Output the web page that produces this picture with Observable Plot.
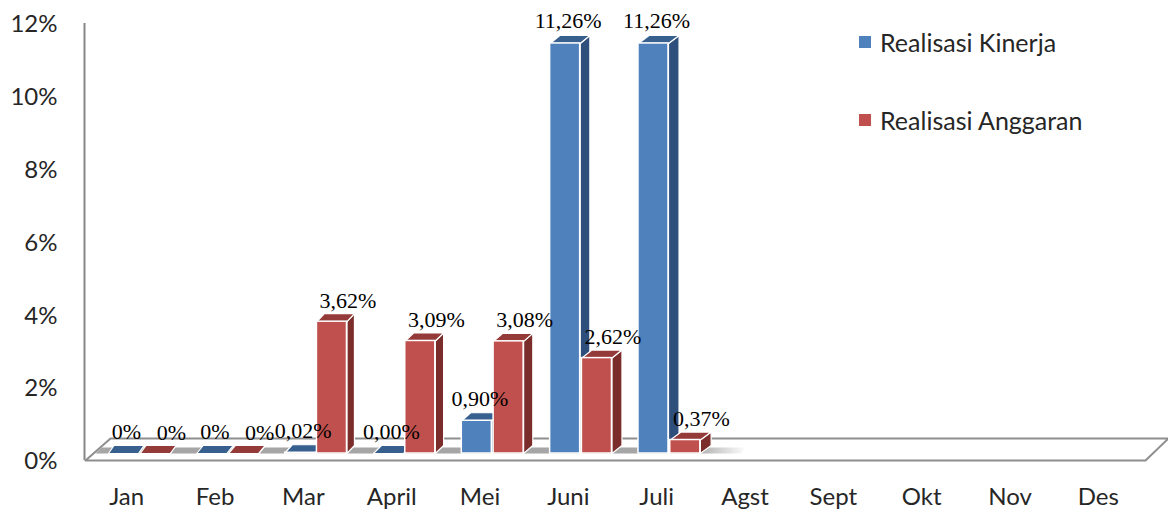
<!DOCTYPE html>
<html>
<head>
<meta charset="utf-8">
<script src="https://cdn.jsdelivr.net/npm/d3@7"></script>
<script src="https://cdn.jsdelivr.net/npm/@observablehq/plot@0.6"></script>
<style>
  html, body { margin: 0; padding: 0; background: #fff; }
  #wrap { position: relative; width: 1168px; height: 512px; }
  #legend { position: absolute; left: 859px; top: 27px; font-family: Lato, sans-serif; font-size: 25px; color: #262626; }
  .item { position: absolute; left: 0; height: 30px; display: flex; align-items: center; white-space: nowrap; }
  .sw { width: 12px; height: 12px; margin-right: 9px; }
</style>
</head>
<body>
<div id="wrap"><div id="legend"></div></div>
<script>
// ---- data ----
const months = ["Jan","Feb","Mar","April","Mei","Juni","Juli","Agst","Sept","Okt","Nov","Des"];
const seriesNames = ["Realisasi Kinerja","Realisasi Anggaran"];
const kinerja  = [0, 0, 0.02, 0.00, 0.90, 11.26, 11.26];
const anggaran = [0, 0, 3.62, 3.09, 3.08, 2.62, 0.37];
const kinerjaLabels  = ["0%","0%","0,02%","0,00%","0,90%","11,26%","11,26%"];
const anggaranLabels = ["0%","0%","3,62%","3,09%","3,08%","2,62%","0,37%"];
const yTicks = [0, 2, 4, 6, 8, 10, 12];

// ---- layout / style ----
const W = 1168, H = 512, ML = 85, MR = 23, MT = 16, MB = 59;
const pxX = (W - ML - MR) / months.length;
const pxY = (H - MT - MB) / 12;
const toPx = u => ML + (u + 0.5) * pxX;
const depthPx = X => 5 + 0.0095 * (X - ML);
const DY = 8 / pxY;
const colors = {
  kinerja:  {front: "#4F81BD", top: "#37608F", side: "#2E4F7C"},
  anggaran: {front: "#C0504D", top: "#943A38", side: "#7A2D2B"}
};
const spans = {kinerja: [-0.24, 0.10], anggaran: [0.12, 0.46]};
const labelDx = {kinerja: 3, anggaran: 16};

function buildBars(values, labels, key) {
  return values.map((v, i) => ({i, v, key, label: labels[i], x1: i + spans[key][0], x2: i + spans[key][1]}));
}
function faces(bars) {
  const side = [], top = [];
  bars.forEach((b, k) => {
    const ddx = depthPx(toPx(b.x2)) / pxX;
    [[b.x2, 0], [b.x2 + ddx, DY], [b.x2 + ddx, b.v + DY], [b.x2, b.v], [b.x2, 0]]
      .forEach(([x, y]) => side.push({x, y, id: k}));
    [[b.x1, b.v], [b.x2, b.v], [b.x2 + ddx, b.v + DY], [b.x1 + ddx, b.v + DY], [b.x1, b.v]]
      .forEach(([x, y]) => top.push({x, y, id: k}));
  });
  return {side, top};
}

const barsK = buildBars(kinerja, kinerjaLabels, "kinerja");
const barsA = buildBars(anggaran, anggaranLabels, "anggaran");

// floor slab (in scale units, derived from pixel depths)
const x0 = -0.5, x1 = months.length - 0.5;
const floor = [
  [x0, -7 / pxY], [x1, -7 / pxY], [x1 + 23 / pxX, 15 / pxY], [x0 + 25 / pxX, 15 / pxY], [x0, -7 / pxY]
].map(([x, y]) => ({x, y}));
const shEnd = (740 - ML) / pxX - 0.5, shStart = x0 + 10 / pxX;
const shadow = [
  [shStart, 0], [shEnd, 0], [shEnd + 6 / pxX, 6 / pxY], [shStart + 6 / pxX, 6 / pxY], [shStart, 0]
].map(([x, y]) => ({x, y}));

function seriesMarks(bars) {
  const c = colors[bars[0].key];
  const f = faces(bars);
  return [
    Plot.line(f.side, {x: "x", y: "y", z: "id", fill: c.side, stroke: "white", strokeWidth: 1.2, strokeLinejoin: "round"}),
    Plot.line(f.top, {x: "x", y: "y", z: "id", fill: c.top, stroke: "white", strokeWidth: 1.2, strokeLinejoin: "round"}),
    Plot.rect(bars, {x1: "x1", x2: "x2", y1: 0, y2: "v", fill: c.front, stroke: "white", strokeWidth: 1.5})
  ];
}

const chart = Plot.plot({
  width: W, height: H,
  marginLeft: ML, marginRight: MR, marginTop: MT, marginBottom: MB,
  x: {type: "linear", domain: [x0, x1]},
  y: {domain: [0, 12]},
  style: {fontFamily: "Lato, sans-serif", fontSize: "24px", color: "#262626", background: "white", overflow: "visible"},
  marks: [
    Plot.line(floor, {x: "x", y: "y", fill: "white", stroke: "#8E8E8E", strokeWidth: 2}),
    Plot.line(shadow, {x: "x", y: "y", fill: "url(#shadowFade)", stroke: "none"}),
    Plot.ruleX([x0], {y1: 0, y2: 12, dy: 7, dx: -1, stroke: "#868686", strokeWidth: 2}),
    ...seriesMarks(barsK),
    ...seriesMarks(barsA),
    Plot.text(barsK, {x: d => (d.x1 + d.x2) / 2, y: "v", text: "label", dy: -22, dx: labelDx.kinerja,
      fontFamily: "Liberation Serif, serif", fontSize: 22, fill: "#000"}),
    Plot.text(barsA, {x: d => (d.x1 + d.x2) / 2, y: "v", text: "label", dy: -21, dx: labelDx.anggaran,
      fontFamily: "Liberation Serif, serif", fontSize: 22, fill: "#000"}),
    Plot.axisY({ticks: yTicks, tickFormat: d => d + "%", tickSize: 0, tickPadding: 28, dy: 8, label: null, fontSize: 24}),
    Plot.axisX({ticks: d3.range(months.length), tickFormat: i => months[i], tickSize: 0, tickPadding: 34, dx: -3, label: null, fontSize: 24})
  ]
});

// gradient definition for the floor shadow
const ns = "http://www.w3.org/2000/svg";
const defs = document.createElementNS(ns, "defs");
defs.innerHTML = '<linearGradient id="shadowFade" x1="0" x2="1" y1="0" y2="0">' +
  '<stop offset="0" stop-color="#A6A6A6"/><stop offset="0.92" stop-color="#A6A6A6"/>' +
  '<stop offset="1" stop-color="#A6A6A6" stop-opacity="0"/></linearGradient>';
chart.insertBefore(defs, chart.firstChild);

document.getElementById("wrap").insertBefore(chart, document.getElementById("legend"));

// legend
const legend = document.getElementById("legend");
seriesNames.forEach((name, k) => {
  const key = k === 0 ? "kinerja" : "anggaran";
  const item = document.createElement("div");
  item.className = "item";
  item.style.top = (k * 78) + "px";
  const sw = document.createElement("span");
  sw.className = "sw";
  sw.style.background = colors[key].front;
  const t = document.createElement("span");
  t.textContent = name;
  item.appendChild(sw); item.appendChild(t);
  legend.appendChild(item);
});
</script>
</body>
</html>
